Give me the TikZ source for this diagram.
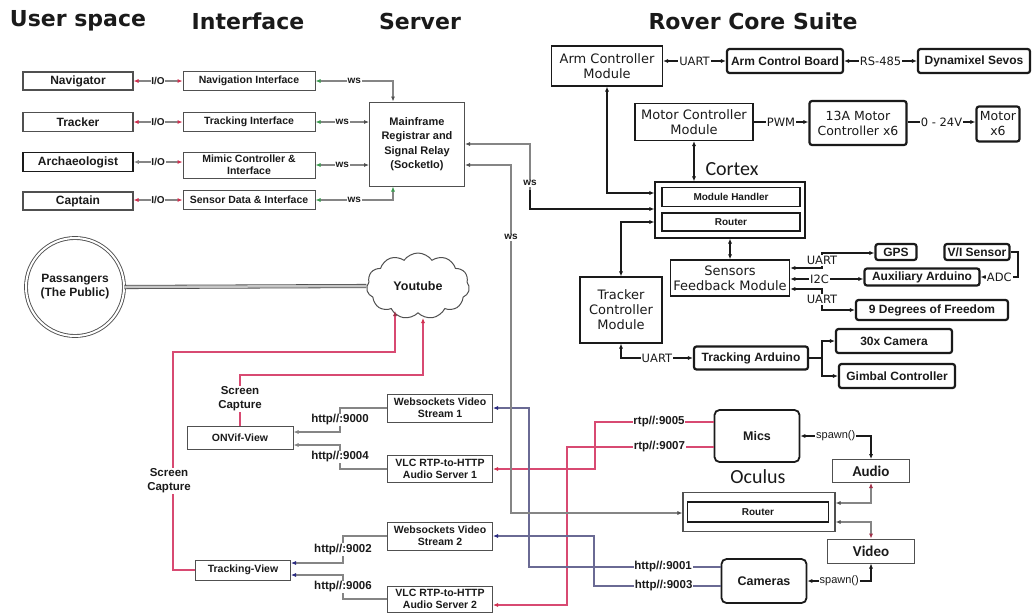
\documentclass[tikz,border=0pt]{standalone}
\usepackage{fontspec}
\setmainfont{Liberation Sans}
\newfontfamily\dejavu{DejaVu Sans}
\newfontfamily\carlito{Carlito}
\usetikzlibrary{arrows.meta,shapes.symbols,shapes.geometric}
\newcommand\fsz[2]{\fontsize{#1}{#2}\selectfont}
\definecolor{wire}{HTML}{858585}
\definecolor{redwire}{HTML}{D84A72}
\definecolor{bluewire}{HTML}{6A6A94}
\definecolor{tipgreen}{HTML}{3C9A50}
\definecolor{tipblue}{HTML}{2A2A80}
\definecolor{tipred}{HTML}{D03050}
\definecolor{tipmaroon}{HTML}{A03048}
\definecolor{boxgray}{HTML}{505050}
\definecolor{ink}{HTML}{1A1A1A}
\tikzset{
  tk/.tip={Latex[length=5pt,width=4.2pt]},
  tkr/.tip={Latex[length=5pt,width=4.2pt,color=tipred]},
  tkg/.tip={Latex[length=5pt,width=4.2pt,color=tipgreen]},
  tkb/.tip={Latex[length=5pt,width=4.2pt,color=tipblue]},
  tkm/.tip={Latex[length=5pt,width=4.2pt,color=tipmaroon]},
  tkd/.tip={Latex[length=5pt,width=4.2pt,color=boxgray]},
  heading/.style={font=\dejavu\bfseries\fsz{22}{26}, text=ink},
  ubox/.style={draw=boxgray, line width=1.1pt, inner sep=1pt, font=\bfseries\fsz{12}{14}, text=ink},
  ibox/.style={draw=boxgray, line width=1pt, inner sep=1pt, font=\bfseries\fsz{10.5}{12}, text=ink, align=center},
  rbox/.style={draw=ink, line width=1.2pt, inner sep=1pt, font=\dejavu\fsz{13}{15}, text=ink, align=center},
  tbox/.style={draw=ink, line width=2.2pt, rounded corners=2.5pt, inner sep=1pt, font=\bfseries\fsz{12}{14}, text=ink, align=center},
  dbox/.style={draw=ink, line width=2.2pt, rounded corners=2.5pt, inner sep=1pt, font=\dejavu\fsz{12.5}{15}, text=ink, align=center},
  avbox/.style={draw=boxgray, line width=1pt, inner sep=1pt, font=\carlito\bfseries\fsz{15}{17}, text=ink},
  wireln/.style={draw=wire, line width=1.2pt},
  redln/.style={draw=redwire, line width=1.1pt},
  blueln/.style={draw=bluewire, line width=1.1pt},
  blkln/.style={draw=ink, line width=1.5pt},
  lab/.style={fill=white, inner sep=0.8pt, font=\bfseries\fsz{10}{12}, text=ink},
  labr/.style={fill=white, inner sep=1pt, font=\dejavu\fsz{11.5}{13}, text=ink},
  labp/.style={fill=white, inner sep=0.8pt, font=\bfseries\fsz{11.5}{14}, text=ink, align=center},
}
\begin{document}
\begin{tikzpicture}[x=1pt, y=-1pt]
\useasboundingbox (0,0) rectangle (1032,614);

% column headings
\node[heading] at (78,21) {User space};
\node[heading] at (248,21) {Interface};
\node[heading] at (420,21) {Server};
\node[heading] at (753,21) {Rover Core Suite};

% user space
\node[ubox, minimum width=110pt, minimum height=18pt] (nav) at (78,81) {Navigator};
\node[ubox, minimum width=110pt, minimum height=19pt] (trk) at (78,122) {Tracker};
\node[ubox, draw=ink, line width=1.6pt, minimum width=110pt, minimum height=19pt] (arch) at (78,162) {Archaeologist};
\node[ubox, minimum width=110pt, minimum height=18pt] (capt) at (78,201) {Captain};

% interfaces
\node[ibox, minimum width=132pt, minimum height=19pt] (navi) at (249,81) {Navigation Interface};
\node[ibox, minimum width=132pt, minimum height=19pt] (trki) at (249,122) {Tracking Interface};
\node[ibox, minimum width=132pt, minimum height=26pt] (mimi) at (249,165) {Mimic Controller \&\\Interface};
\node[ibox, minimum width=132pt, minimum height=19pt] (seni) at (249,200) {Sensor Data \& Interface};

% server
\node[ibox, font=\bfseries\fsz{11}{14.5}, minimum width=95pt, minimum height=84pt] (srv) at (417,144) {Mainframe\\Registrar and\\Signal Relay\\(SocketIo)};

% user <-> interface
\draw[wireln, tkr-tkr] (nav) -- node[lab]{I/O} (navi);
\draw[wireln, tkr-tkr] (trk) -- node[lab]{I/O} (trki);
\draw[wireln, tk-tkr] (arch) -- node[lab]{I/O} (mimi.west |- arch);
\draw[wireln, tkr-tkr] (capt.east |- seni) -- node[lab]{I/O} (seni);

% interface <-> server
\draw[wireln, tkg-tkd] (navi.east) -- node[lab]{ws} (393,81) -- (srv.north -| 393,0);
\draw[wireln, tkg-tkd] (trki.east) -- node[lab]{ws} (srv.west |- trki.east);
\draw[wireln, tkg-tkd] (mimi.east) -- node[lab]{ws} (srv.west |- mimi.east);
\draw[wireln, tkg-tkg] (seni.east) -- node[lab]{ws} (393,200) -- (srv.south -| 393,0);

% passengers and youtube
\node[circle, draw=boxgray, line width=0.9pt, double, double distance=2pt, minimum size=98pt, inner sep=0pt,
      font=\bfseries\fsz{12}{14}, align=center, text=ink] (pass) at (75,287) {Passangers\\(The Public)};
\node[cloud, cloud puffs=11, cloud puff arc=110, aspect=1.6, draw=boxgray, line width=1pt, inner sep=0pt,
      minimum width=103pt, minimum height=66pt, font=\bfseries\fsz{12.5}{14}, text=ink] (yt) at (418,286) {Youtube};
\draw[draw=boxgray, line width=0.8pt, double=gray!45, double distance=2.5pt] (pass.east) -- (yt.west);
\coordinate (ytA) at (395,311);
\coordinate (ytB) at (423,318);

% streaming servers
\node[ibox, minimum width=105pt, minimum height=28pt] (ws1) at (440,408) {Websockets Video\\Stream 1};
\node[ibox, minimum width=105pt, minimum height=27pt] (as1) at (440,469) {VLC RTP-to-HTTP\\Audio Server 1};
\node[ibox, minimum width=105pt, minimum height=28pt] (ws2) at (440,536) {Websockets Video\\Stream 2};
\node[ibox, minimum width=105pt, minimum height=26pt] (as2) at (440,599) {VLC RTP-to-HTTP\\Audio Server 2};

% viewers
\node[ibox, minimum width=106pt, minimum height=23pt] (onvif) at (240,438) {ONVif-View};
\node[ibox, minimum width=95pt, minimum height=20pt] (tview) at (243,570) {Tracking-View};

% viewers <-> streaming servers
\draw[wireln, -tk] (ws1.west) -- (340,408) -- node[labp]{http//:9000} (340,432) -- (onvif.east |- 0,432);
\draw[wireln, -tk] (as1.west) -- (340,469) -- node[labp]{http//:9004} (340,445) -- (onvif.east |- 0,445);
\draw[wireln, -tkb] (ws2.west) -- (343,536) -- node[labp]{http//:9002} (343,563) -- (tview.east |- 0,563);
\draw[wireln, -tkb] (as2.west) -- (343,599) -- node[labp]{http//:9006} (343,575) -- (tview.east |- 0,575);

% screen capture to youtube
\node[labp] (sc1) at (240,399) {Screen\\Capture};
\draw[redln] (onvif.north) -- (sc1.south);
\draw[redln, -tkr] (sc1.north) -- (240,375) -- (423,375) -- (ytB);
\draw[redln, -tkm] (tview.west) -- (173,570) -- node[labp, pos=0.41, xshift=-4pt]{Screen\\Capture} (173,352) -- (395,352) -- (ytA);

% rover core suite
\node[rbox, minimum width=111pt, minimum height=40pt] (acm) at (607,66) {Arm Controller\\Module};
\node[tbox, minimum width=116pt, minimum height=24pt] (acb) at (785,61) {Arm Control Board};
\node[tbox, minimum width=112pt, minimum height=24pt] (dyn) at (974,61) {Dynamixel Sevos};
\node[rbox, minimum width=118pt, minimum height=37pt] (mcm) at (694,122) {Motor Controller\\Module};
\node[dbox, minimum width=97pt, minimum height=44pt] (mc13) at (858,123) {13A Motor\\Controller x6};
\node[dbox, minimum width=43pt, minimum height=35pt] (mot) at (998,124) {Motor\\x6};

\node[font=\carlito\fsz{20}{22}, text=ink] at (732,169) {Cortex};
\node[draw=ink, line width=1.2pt, minimum width=150pt, minimum height=56pt] (cortex) at (730,210) {};
\node[draw=ink, line width=1.2pt, minimum width=138pt, minimum height=19pt, inner sep=0pt,
      font=\bfseries\fsz{10}{12}, text=ink] (mh) at (731,197) {Module Handler};
\node[draw=ink, line width=1.2pt, minimum width=138pt, minimum height=18pt, inner sep=0pt,
      font=\bfseries\fsz{10}{12}, text=ink] (crt) at (731,222) {Router};

\node[rbox, minimum width=82pt, minimum height=66pt] (tcm) at (621,310) {Tracker\\Controller\\Module};
\node[rbox, line width=1.5pt, minimum width=119pt, minimum height=36pt] (sfm) at (730,278) {Sensors\\Feedback Module};

\node[tbox, minimum width=41pt, minimum height=16pt] (gps) at (896,252) {GPS};
\node[tbox, minimum width=65pt, minimum height=16pt] (vis) at (977,252) {V/I Sensor};
\node[tbox, minimum width=115pt, minimum height=17pt] (aux) at (922,277) {Auxiliary Arduino};
\node[tbox, minimum width=152pt, minimum height=20pt] (dof) at (932,310) {9 Degrees of Freedom};
\node[tbox, minimum width=114pt, minimum height=23pt] (tard) at (751,358) {Tracking Arduino};
\node[tbox, minimum width=116pt, minimum height=24pt] (cam30) at (894,341) {30x Camera};
\node[tbox, minimum width=116pt, minimum height=24pt] (gimb) at (897,376) {Gimbal Controller};

% rover links
\draw[blkln, tk-tk] (acm.east |- acb.west) -- node[labr]{UART} (acb.west);
\draw[blkln, tk-tk] (acb) -- node[labr]{RS-485} (dyn);
\draw[blkln, -tk] (mcm.east |- 0,122) -- node[labr]{PWM} (mc13.west |- 0,122);
\draw[blkln, -tk] (mc13.east |- 0,122) -- node[labr]{0 - 24V} (mot.west |- 0,122);
\draw[blkln, tk-tk] (acm.south) -- (acm.south |- 0,193) -- (cortex.west |- 0,193);
\draw[blkln, tk-tk] (mcm.south) -- (mcm.south |- cortex.north);
\draw[blkln, tk-tk] (cortex.west |- 0,222) -- (tcm.north |- 0,222) -- (tcm.north);
\draw[blkln, tk-tk] (sfm.north |- cortex.south) -- (sfm.north);

\draw[blkln, tk-tk] (sfm.east |- 0,268) -- (822,268) -- node[labr]{UART} (822,253) -- (gps.west |- 0,253);
\draw[blkln, tk-tk] (sfm.east |- 0,279) -- node[labr, pos=0.4]{I2C} (aux.west |- 0,279);
\draw[blkln, tk-tk] (sfm.east |- 0,289) -- (822,289) -- node[labr]{UART} (822,310) -- (dof.west |- 0,310);
\draw[blkln, -tk] (vis.east) -- (1018,252) -- (1018,277) -- node[labr]{ADC} (aux.east);

\draw[blkln, tk-tk] (tcm.south) -- (tcm.south |- tard.west) -- node[labr]{UART} (tard.west);
\coordinate (tsplit) at (822,358);
\draw[blkln, -tk] (tard.east) -- (tsplit) |- (cam30.west);
\draw[blkln, -tk] (tsplit) |- (gimb.west);

% oculus
\node[draw=ink, line width=1.8pt, rounded corners=5pt, minimum width=85pt, minimum height=52pt,
      font=\bfseries\fsz{12.5}{14}, text=ink] (mics) at (757,436) {Mics};
\node[avbox, minimum width=77pt, minimum height=23pt] (audio) at (871,471) {Audio};
\node[font=\carlito\fsz{20}{22}, text=ink] at (758,477) {Oculus};
\node[draw=boxgray, line width=1.2pt, minimum width=152pt, minimum height=39pt] (oc) at (759,512) {};
\node[draw=ink, line width=1.5pt, minimum width=141pt, minimum height=20pt, inner sep=0pt,
      font=\bfseries\fsz{10}{12}, text=ink] (ocr) at (758,512) {Router};
\node[avbox, minimum width=87pt, minimum height=24pt] (video) at (871,551) {Video};
\node[draw=ink, line width=1.8pt, rounded corners=5pt, minimum width=85pt, minimum height=44pt,
      font=\bfseries\fsz{12.5}{14}, text=ink] (cams) at (764,581) {Cameras};

\draw[blkln, tk-tk] (mics.east) -- node[labp, font=\fsz{11}{13}]{spawn()} (audio.north |- mics.east) -- (audio.north);
\draw[blkln, tk-tk] (cams.east) -- node[labp, font=\fsz{11}{13}]{spawn()} (video.south |- cams.east) -- (video.south);
\draw[wireln, tkd-tkm] (oc.east |- 0,503) -- (audio.south |- 0,503) -- (audio.south);
\draw[wireln, tkd-tkm] (oc.east |- 0,522) -- (video.north |- 0,522) -- (video.north);

% audio and video streams
\draw[redln, -tkr] (mics.west |- 0,422) -- node[labp, pos=0.46]{rtp//:9005} (595,422) -- (595,469) -- (as1.east |- 0,469);
\draw[redln, -tkr] (mics.west |- 0,447) -- node[labp, pos=0.37]{rtp//:9007} (567,447) -- (567,605) -- (as2.east |- 0,605);
\draw[blueln, -tkb] (cams.west |- 0,567) -- node[labp, pos=0.30]{http//:9001} (529,567) -- (529,408) -- (ws1.east |- 0,408);
\draw[blueln, -tkb] (cams.west |- 0,586) -- node[labp, pos=0.45]{http//:9003} (594,586) -- (594,536) -- (ws2.east |- 0,536);

% server <-> rover
\coordinate (wsbend) at (530,190);
\draw[wireln, tkd-] (srv.east |- 0,144) -- (530,144) -- node[lab, pos=0.85]{ws} (wsbend);
\draw[blkln, -tk] (wsbend) -- (530,209) -- (cortex.west |- 0,209);
\draw[wireln, tkd-tkd] (srv.east |- 0,165) -- (511,165) -- node[lab, pos=0.207]{ws} (511,513) -- (oc.west |- 0,513);
\end{tikzpicture}
\end{document}
